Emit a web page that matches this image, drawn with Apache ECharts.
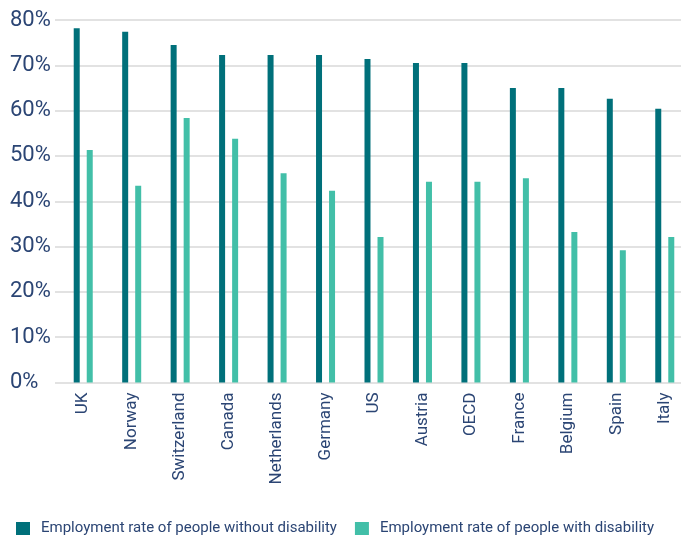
<!DOCTYPE html>
<html><head><meta charset="utf-8">
<script src="https://cdn.jsdelivr.net/npm/echarts@6/dist/echarts.min.js"></script>
<style>html,body{margin:0;padding:0;background:#fff}#c{width:681px;height:541px}</style>
</head><body><div id="c"></div>
<script>
const categories = ['UK','Norway','Switzerland','Canada','Netherlands','Germany','US','Austria','OECD','France','Belgium','Spain','Italy'];
const withoutDisability = [78.2,77.4,74.5,72.3,72.3,72.3,71.4,70.5,70.5,65.0,65.0,62.6,60.4];
const withDisability = [51.3,43.4,58.4,53.8,46.2,42.3,32.1,44.3,44.3,45.1,33.2,29.2,32.1];
const seriesNames = ['Employment rate of people without disability','Employment rate of people with disability'];
const textColor = '#2b4574';
const font = 'Roboto';
const chart = echarts.init(document.getElementById('c'));
chart.setOption({
  animation: false,
  textStyle: {fontFamily: font},
  grid: [
    {left: 55, top: 20, width: 626, height: 362.5, outerBoundsMode: 'none', containLabel: false},
    {left: 59, top: 20, width: 630, height: 362.5, outerBoundsMode: 'none', containLabel: false}
  ],
  legend: {
    left: 11, top: 516, itemWidth: 14, itemHeight: 13, itemGap: 18,
    icon: 'rect',
    textStyle: {color: textColor, fontSize: 15, fontFamily: font, padding: [0, 0, 0, 6]},
    data: seriesNames
  },
  xAxis: [
    {type: 'category', gridIndex: 0, data: categories, show: false},
    {
      type: 'category', gridIndex: 1, data: categories,
      axisLine: {show: false}, axisTick: {show: false},
      axisLabel: {rotate: 90, color: textColor, fontSize: 17, margin: 10, interval: 0}
    }
  ],
  yAxis: [
    {
      type: 'value', gridIndex: 0, min: 0, max: 80, interval: 10,
      axisLine: {show: false}, axisTick: {show: false},
      splitLine: {lineStyle: {color: '#d9d9d9', width: 1.5}},
      axisLabel: {formatter: '{value}%', color: textColor, fontSize: 22, align: 'left', margin: 45}
    },
    {
      type: 'value', gridIndex: 1, min: 0, max: 80, interval: 10,
      axisLine: {show: false}, axisTick: {show: false}, splitLine: {show: false}, axisLabel: {show: false}
    }
  ],
  series: [
    {name: seriesNames[0], type: 'bar', xAxisIndex: 1, yAxisIndex: 1, data: withoutDisability, barWidth: 6, barGap: '117%', itemStyle: {color: '#00707a'}},
    {name: seriesNames[1], type: 'bar', xAxisIndex: 1, yAxisIndex: 1, data: withDisability, barWidth: 6, itemStyle: {color: '#42bfa8'}}
  ]
});
</script></body></html>
